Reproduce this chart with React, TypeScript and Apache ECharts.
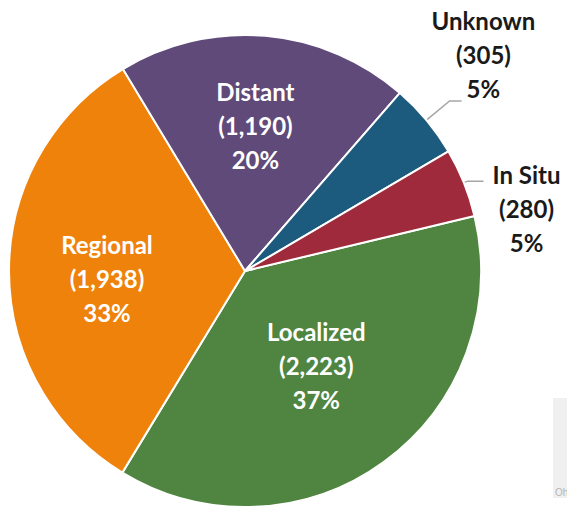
import React, { useEffect, useRef } from "react";
import * as echarts from "echarts";

const categories = ["Localized", "Regional", "Distant", "Unknown", "In Situ"];
const counts = [2223, 1938, 1190, 305, 280];
const colors = ["#4f8541", "#ef820a", "#604a7a", "#1c5a7e", "#9e2a3b"];
const insideFlags = [true, true, true, false, false];
// label nudges (dx, dy) relative to ECharts' default label placement
const labelNudges: [number, number][] = [
  [0, -3],
  [-17, 8],
  [0, -25],
  [-35, -46],
  [4, 27],
];

const FONT = "Lato, 'Open Sans', sans-serif";

export default function App() {
  const ref = useRef<HTMLDivElement>(null);
  useEffect(() => {
    if (!ref.current) return;
    const chart = echarts.init(ref.current, undefined, { renderer: "svg" });
    const data = categories.map((name, i) => {
      const inside = insideFlags[i];
      return {
        name,
        value: counts[i],
        itemStyle: { color: colors[i] },
        label: {
          show: true,
          position: inside ? "inside" : "outside",
          color: inside ? "#ffffff" : "#1a1a1a",
          overflow: "none",
          rich: {
            a: {
              fontFamily: FONT,
              fontWeight: "bold",
              fontSize: 24,
              lineHeight: 34,
              align: "center",
              color: inside ? "#ffffff" : "#1a1a1a",
            },
          },
        },
        labelLine: inside
          ? { show: false }
          : {
              show: true,
              length: i === 3 ? 30 : 4,
              length2: i === 3 ? 12 : 16,
              lineStyle: { color: "#a6a6a6", width: 1.5 },
            },
      };
    });
    chart.setOption({
      animation: false,
      backgroundColor: "#ffffff",
      series: [
        {
          type: "pie",
          center: [245, 271],
          radius: [0, 236],
          startAngle: 13.5,
          clockwise: true,
          avoidLabelOverlap: false,
          itemStyle: { borderColor: "#ffffff", borderWidth: 2 },
          label: {
            formatter: (p: any) =>
              `{a|${p.name}}\n{a|(${Number(p.value).toLocaleString("en-US")})}\n{a|${Math.round(p.percent)}%}`,
          },
          labelLayout: (p: any) => {
            const n = labelNudges[p.dataIndex];
            return { dx: n[0], dy: n[1] };
          },
          data,
        },
      ],
      graphic: [
        {
          type: "rect",
          shape: { x: 553, y: 398, width: 20, height: 100 },
          style: { fill: "#f0f0f0" },
          silent: true,
        },
        {
          type: "text",
          x: 555,
          y: 487,
          style: { text: "Oh", fill: "#b5b5b5", fontSize: 10, fontFamily: "Arial" },
          silent: true,
        },
      ],
    });
    return () => chart.dispose();
  }, []);
  return (
    <div
      ref={ref}
      style={{ position: "absolute", left: 0, top: 0, width: 567, height: 510 }}
    />
  );
}
